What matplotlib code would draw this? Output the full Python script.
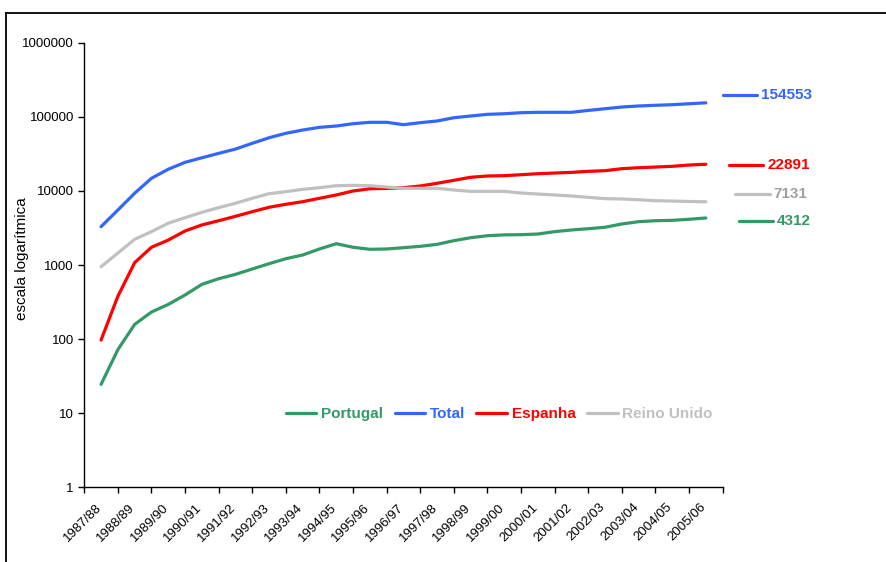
import numpy as np
import matplotlib
matplotlib.use("Agg")
import matplotlib.pyplot as plt
from matplotlib.transforms import ScaledTranslation

plt.rcParams.update({
    "font.family": ["Liberation Sans", "DejaVu Sans"],
    "font.size": 9.5,
})

# ------------------------- data -------------------------------------------
# academic years on the category axis
years = ['1987/88', '1988/89', '1989/90', '1990/91', '1991/92', '1992/93',
         '1993/94', '1994/95', '1995/96', '1996/97', '1997/98', '1998/99',
         '1999/00', '2000/01', '2001/02', '2002/03', '2003/04', '2004/05',
         '2005/06']

# half-year readings (two per academic year, last one at 2005/06)
total = [3290, 5520, 9300, 14800, 19600, 24300, 28000, 32100, 36700, 43900,
         52200, 59900, 66300, 72100, 75100, 80700, 84300, 84300, 78300, 83300,
         87800, 97200, 102500, 108000, 110000, 113600, 115000, 115000, 115000,
         122000, 128500, 135600, 140000, 143000, 145700, 150000, 154553]
espanha = [97, 378, 1075, 1735, 2170, 2880, 3470, 3960, 4540, 5240, 6010,
           6600, 7150, 7950, 8810, 9970, 10700, 10800, 11050, 11650, 12660,
           13900, 15270, 15900, 16050, 16550, 17070, 17420, 17800, 18370,
           18750, 19950, 20560, 21000, 21470, 22350, 22891]
reino_unido = [948, 1450, 2220, 2820, 3660, 4350, 5140, 5940, 6810, 7950,
               9170, 9750, 10500, 11040, 11750, 11890, 11750, 11290, 10840,
               10840, 10840, 10290, 9860, 9860, 9860, 9370, 9080, 8810, 8540,
               8200, 7860, 7780, 7610, 7380, 7300, 7200, 7131]
portugal = [24.5, 72, 158, 232, 294, 394, 548, 653, 748, 883, 1042, 1217,
            1365, 1645, 1940, 1735, 1630, 1645, 1713, 1787, 1900, 2130, 2335,
            2485, 2550, 2565, 2620, 2820, 2970, 3090, 3230, 3580, 3840, 3960,
            4010, 4140, 4312]

c_green = '#339966'
c_blue = '#3366FF'
c_red = '#FF0000'
c_grey = '#C0C0C0'

# ------------------------- plot -------------------------------------------
fig = plt.figure(figsize=(8.86, 5.62), dpi=100)
ax = fig.add_axes([0.0951, 0.1329, 0.7205, 0.7911])

x = np.arange(len(total)) / 2.0
lw = 2.3
ax.plot(x, portugal, color=c_green, lw=lw, label='Portugal', solid_capstyle='round')
ax.plot(x, total, color=c_blue, lw=lw, label='Total', solid_capstyle='round')
ax.plot(x, espanha, color=c_red, lw=lw, label='Espanha', solid_capstyle='round')
ax.plot(x, reino_unido, color=c_grey, lw=lw, label='Reino Unido', solid_capstyle='round')

ax.set_yscale('log')
ax.set_ylim(1, 1000000)
ax.set_yticks([10 ** i for i in range(7)])
ax.set_yticklabels([str(10 ** i) for i in range(7)])
ax.yaxis.set_minor_locator(matplotlib.ticker.NullLocator())

ax.set_xlim(-0.5, len(years) - 0.5)
ax.set_xticks(np.arange(len(years) + 1) - 0.5)
ax.set_xticklabels([])
ax.set_xticks(np.arange(len(years)), minor=True)
ax.set_xticklabels(years, minor=True, rotation=45, ha='right', va='top',
                   rotation_mode='anchor')
ax.tick_params(axis='x', which='minor', length=0, pad=10)
ax.tick_params(axis='both', which='major', length=4, width=1, direction='out')
shift = ScaledTranslation(-6 / 100, 0, fig.dpi_scale_trans)
for lab in ax.get_xticklabels(minor=True):
    lab.set_transform(lab.get_transform() + shift)

for s in ['top', 'right']:
    ax.spines[s].set_visible(False)
for s in ['left', 'bottom']:
    ax.spines[s].set_linewidth(1)

ax.set_ylabel('escala logarítmica', fontsize=11)
ax.yaxis.set_label_coords(-0.0870, 0.515)

leg = ax.legend(loc='center', bbox_to_anchor=(0.650, 0.165), ncol=4,
                frameon=False, handlelength=2.0, handletextpad=0.3,
                columnspacing=0.75, labelcolor='linecolor',
                prop={'weight': 'bold', 'size': 11})

# end values on the right
ends = [(total, c_blue, c_blue, 1.0005, 0.8824),
        (espanha, c_red, c_red, 1.0099, 0.7250),
        (reino_unido, c_grey, '#A0A0A0', 1.0200, 0.6600),
        (portugal, c_green, c_green, 1.0255, 0.5990)]
for series, lc, tc, x0, y0 in ends:
    ax.plot([x0, x0 + 0.054], [y0, y0], transform=ax.transAxes, color=lc,
            lw=lw, clip_on=False, solid_capstyle='round')
    ax.text(x0 + 0.060, y0, str(series[-1]), transform=ax.transAxes,
            color=tc, fontsize=11, fontweight='bold', va='center', ha='left')

# outer frame
fig.add_artist(plt.Line2D([5.5 / 886, 5.5 / 886], [0, 1 - 13.3 / 562],
                          transform=fig.transFigure, color='black', lw=1.3))
fig.add_artist(plt.Line2D([5.5 / 886, 1], [1 - 13.3 / 562, 1 - 13.3 / 562],
                          transform=fig.transFigure, color='black', lw=1.3))

fig.savefig('out.png', dpi=100)
